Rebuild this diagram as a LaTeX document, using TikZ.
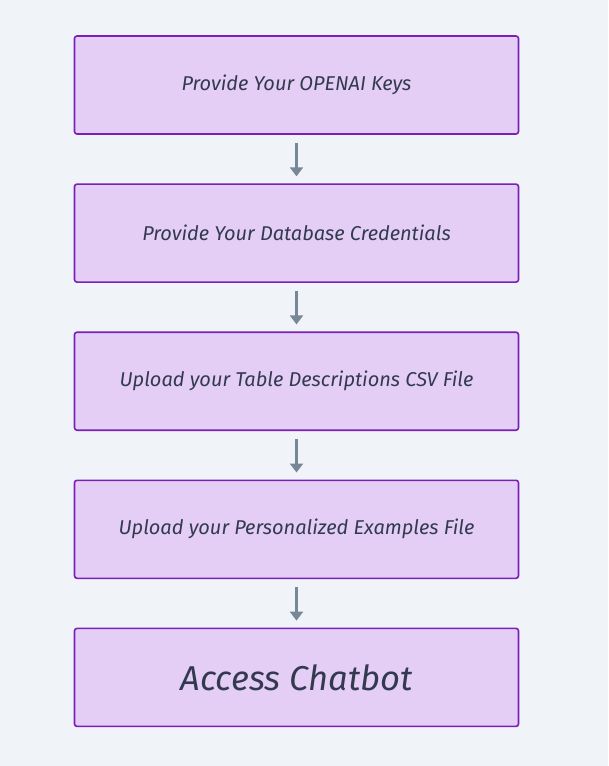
\documentclass[tikz,border=0pt]{standalone}
\usepackage{fontspec}
\setmainfont{Fira Sans}
\usetikzlibrary{positioning,arrows.meta}
\definecolor{bgcol}{HTML}{F0F3F7}
\definecolor{boxfill}{HTML}{E4CEF5}
\definecolor{boxline}{HTML}{7A1FB8}
\definecolor{txtcol}{HTML}{333A4F}
\definecolor{arrcol}{HTML}{768796}
\tikzset{
  stepbox/.style={draw=boxline,fill=boxfill,line width=1.6pt,rounded corners=2.5pt,
    minimum width=444pt,minimum height=98pt,text=txtcol,font=\itshape\fontsize{20}{24}\selectfont},
  flow/.style={draw=arrcol,line width=3.5pt,-{Triangle[width=13pt,length=9pt]},shorten <=8pt,shorten >=7pt}
}
\begin{document}
\begin{tikzpicture}[x=1pt,y=-1pt,node distance=48.5pt]
\fill[bgcol] (0,0) rectangle (608,766);
\useasboundingbox (0,0) rectangle (608,766);
\node[stepbox] (keys) at (296.5,85) {Provide Your OPENAI Keys};
\node[stepbox,below=of keys] (db) {Provide Your Database Credentials};
\node[stepbox,below=of db] (csv) {Upload your Table Descriptions CSV File};
\node[stepbox,below=of csv] (ex) {Upload your Personalized Examples File};
\node[stepbox,below=of ex,font=\itshape\fontsize{34.5}{40}\selectfont] (chat) {Access Chatbot};
\draw[flow] (keys) -- (db);
\draw[flow] (db) -- (csv);
\draw[flow] (csv) -- (ex);
\draw[flow] (ex) -- (chat);
\end{tikzpicture}
\end{document}
